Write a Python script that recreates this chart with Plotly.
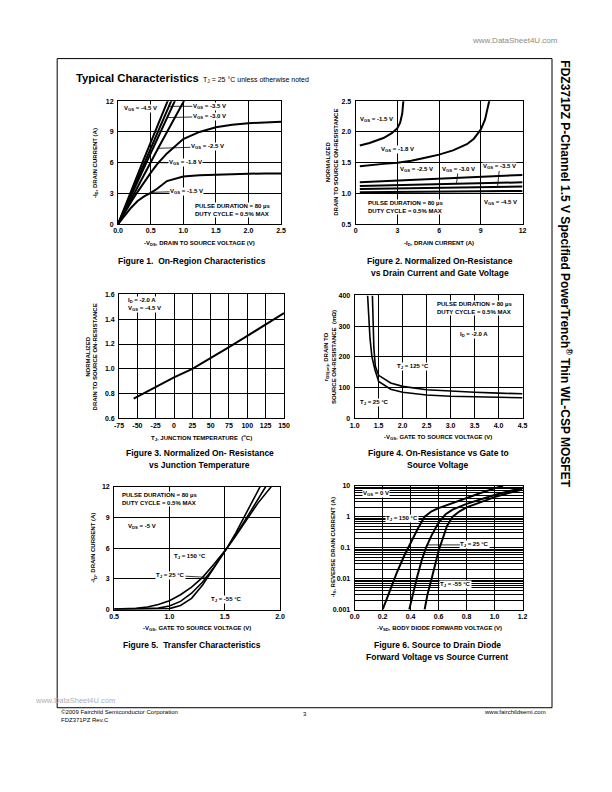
import math
import plotly.graph_objects as go

# page is 612x792; the html body has an 8 px margin, so the figure is drawn 8 px in
PAGE_W, PAGE_H = 612, 792
OFF = 8
W, H = PAGE_W - OFF, PAGE_H - OFF
FONT = "Liberation Sans, Arial, Helvetica, sans-serif"

# ---------------- Figure 1 : On-Region Characteristics ----------------
f1_vds_sat = [0, 0.1, 0.2, 0.3, 0.4, 0.5, 0.6, 0.75, 1.0, 1.25, 1.5, 1.75, 2.0, 2.25, 2.5]
f1_id_m1p8 = [0, 1.1, 2.15, 3.15, 4.1, 5.0, 5.85, 6.9, 8.3, 9.0, 9.45, 9.7, 9.85, 9.95, 10.0]
f1_id_m1p5 = [0, 0.85, 1.6, 2.25, 2.7, 3.05, 3.45, 4.2, 4.65, 4.78, 4.85, 4.9, 4.92, 4.94, 4.95]
f1_vds_m4p5 = [0, 0.38, 0.76, 0.9]
f1_id_m4p5 = [0, 6.1, 12.0, 14.1]
f1_vds_m3p5 = [0, 0.41, 0.81, 0.95]
f1_id_m3p5 = [0, 6.1, 12.0, 14.0]
f1_vds_m3p0 = [0, 0.44, 0.87, 1.0]
f1_id_m3p0 = [0, 6.1, 12.0, 13.8]
f1_vds_m2p5 = [0, 0.31, 0.615, 1.0, 1.1]
f1_id_m2p5 = [0, 3.8, 7.4, 11.9, 13.0]
f1_xticks = [0.0, 0.5, 1.0, 1.5, 2.0, 2.5]
f1_yticks = [0, 3, 6, 9, 12]

# ---------------- Figure 2 : Normalized On-Resistance vs ID ----------------
f2_id_m1p5 = [0.3, 1.0, 2.0, 2.6, 3.0, 3.2, 3.35, 3.45]
f2_r_m1p5 = [1.78, 1.82, 1.9, 1.98, 2.06, 2.15, 2.3, 2.55]
f2_id_m1p8 = [0.3, 1, 2, 3, 4, 5, 6, 7, 8, 8.5, 9.0, 9.3, 9.5, 9.65]
f2_r_m1p8 = [1.44, 1.46, 1.48, 1.50, 1.53, 1.58, 1.63, 1.70, 1.80, 1.89, 2.04, 2.2, 2.38, 2.55]
f2_id_lin = [0.3, 12]
f2_r_m2p5 = [1.18, 1.30]
f2_r_m3p0 = [1.12, 1.18]
f2_r_m3p5 = [1.07, 1.11]
f2_r_m4p5 = [1.02, 1.04]
f2_xticks = [0, 3, 6, 9, 12]
f2_yticks = [0.5, 1.0, 1.5, 2.0, 2.5]

# ---------------- Figure 3 : Normalized On-Resistance vs TJ ----------------
f3_tj = [-55, -25, 0, 25, 50, 75, 100, 125, 150]
f3_r = [0.76, 0.855, 0.93, 1.0, 1.085, 1.175, 1.265, 1.36, 1.45]
f3_xticks = [-75, -50, -25, 0, 25, 50, 75, 100, 125, 150]
f3_yticks = [0.6, 0.8, 1.0, 1.2, 1.4, 1.6]

# ---------------- Figure 4 : On-Resistance vs VGS ----------------
f4_vgs_25 = [1.27, 1.29, 1.32, 1.36, 1.42, 1.5, 1.75, 2.0, 2.5, 3.0, 3.5, 4.0, 4.5]
f4_r_25 = [400, 330, 260, 200, 160, 120, 95, 85, 76, 72, 70, 68, 67]
f4_vgs_125 = [1.37, 1.38, 1.40, 1.43, 1.5, 1.75, 2.0, 2.5, 3.0, 3.5, 4.0, 4.5]
f4_r_125 = [400, 320, 230, 170, 140, 115, 104, 93, 88, 85, 82, 80]
f4_xticks = [1.0, 1.5, 2.0, 2.5, 3.0, 3.5, 4.0, 4.5]
f4_yticks = [0, 100, 200, 300, 400]

# ---------------- Figure 5 : Transfer Characteristics ----------------
f5_vgs_150 = [0.5, 0.7, 0.8, 0.9, 1.0, 1.1, 1.2, 1.3, 1.4, 1.52, 1.6, 1.7, 1.8, 1.92]
f5_id_150 = [0.05, 0.12, 0.25, 0.5, 0.87, 1.45, 2.2, 3.15, 4.4, 6.0, 7.2, 8.8, 10.4, 12.0]
f5_vgs_25 = [0.5, 0.8, 0.9, 1.0, 1.1, 1.2, 1.3, 1.4, 1.52, 1.6, 1.7, 1.87]
f5_id_25 = [0.02, 0.07, 0.15, 0.35, 0.8, 1.6, 2.7, 4.1, 6.0, 7.3, 9.0, 12.0]
f5_vgs_m55 = [0.5, 0.9, 1.0, 1.1, 1.2, 1.3, 1.4, 1.52, 1.6, 1.7, 1.82]
f5_id_m55 = [0.0, 0.03, 0.1, 0.4, 1.1, 2.4, 4.0, 6.0, 7.5, 9.5, 12.0]
f5_xticks = [0.5, 1.0, 1.5, 2.0]
f5_yticks = [0, 3, 6, 9, 12]

# ---------------- Figure 6 : Source-Drain Diode ----------------
f6_vsd_150 = [0.2, 0.25, 0.3, 0.35, 0.4, 0.45, 0.5, 0.55, 0.6, 0.7, 0.8, 0.9, 1.0, 1.06]
f6_is_150 = [0.001, 0.004, 0.015, 0.05, 0.15, 0.4, 1.0, 1.5, 1.9, 2.8, 4.0, 5.8, 8.2, 10.0]
f6_vsd_25 = [0.39, 0.42, 0.45, 0.48, 0.51, 0.55, 0.6, 0.65, 0.7, 0.8, 0.9, 1.0, 1.1, 1.2]
f6_is_25 = [0.001, 0.004, 0.013, 0.04, 0.1, 0.25, 0.65, 1.2, 1.7, 2.6, 3.7, 5.0, 6.6, 8.5]
f6_vsd_m55 = [0.5, 0.52, 0.55, 0.58, 0.6, 0.63, 0.66, 0.7, 0.75, 0.8, 0.9, 1.0, 1.1, 1.2]
f6_is_m55 = [0.001, 0.003, 0.01, 0.035, 0.08, 0.2, 0.5, 1.0, 1.5, 2.0, 3.0, 4.3, 5.8, 7.5]
f6_xticks = [0.0, 0.2, 0.4, 0.6, 0.8, 1.0, 1.2]
f6_yticks = [0.001, 0.01, 0.1, 1, 10]
f6_yticklabels = ["0.001", "0.01", "0.1", "1", "10"]


def px(x):
    return (x - OFF) / W


def py(y):
    return 1 - (y - OFF) / H


def xdom(a, b):
    return [px(a), px(b)]


def ydom(top, bottom):
    return [py(bottom), py(top)]


TICKFONT = dict(family=FONT, size=7, color="black", weight="bold")
AX = dict(showline=True, mirror=True, linecolor="black", linewidth=1,
          showgrid=True, gridcolor="black", gridwidth=1, zeroline=False,
          ticks="", tickfont=TICKFONT, fixedrange=True)

fig = go.Figure()


def line(x, y, i, w=2):
    fig.add_trace(go.Scatter(x=x, y=y, mode="lines", xaxis=f"x{i}", yaxis=f"y{i}",
                             line=dict(color="black", width=w), hoverinfo="skip",
                             showlegend=False))


for xs, ys in [(f1_vds_m4p5, f1_id_m4p5), (f1_vds_m3p5, f1_id_m3p5), (f1_vds_m3p0, f1_id_m3p0),
               (f1_vds_m2p5, f1_id_m2p5), (f1_vds_sat, f1_id_m1p8), (f1_vds_sat, f1_id_m1p5)]:
    line(xs, ys, 1)
for xs, ys in [(f2_id_m1p5, f2_r_m1p5), (f2_id_m1p8, f2_r_m1p8), (f2_id_lin, f2_r_m2p5),
               (f2_id_lin, f2_r_m3p0), (f2_id_lin, f2_r_m3p5), (f2_id_lin, f2_r_m4p5)]:
    line(xs, ys, 2)
line(f3_tj, f3_r, 3)
line(f4_vgs_25, f4_r_25, 4, 1.6)
line(f4_vgs_125, f4_r_125, 4, 1.6)
line(f5_vgs_150, f5_id_150, 5, 1.6)
line(f5_vgs_25, f5_id_25, 5, 1.6)
line(f5_vgs_m55, f5_id_m55, 5, 1.6)
line(f6_vsd_150, f6_is_150, 6)
line(f6_vsd_25, f6_is_25, 6)
line(f6_vsd_m55, f6_is_m55, 6)

layout = dict(width=W, height=H, margin=dict(l=0, r=0, t=0, b=0),
              paper_bgcolor="white", plot_bgcolor="white", showlegend=False)

axes_spec = {
    1: dict(xd=xdom(115, 281), yd=ydom(98, 222), xr=[0, 2.5], yr=[0, 12],
            xt=f1_xticks, xtt=[f"{v:.1f}" for v in f1_xticks], yt=f1_yticks, ytt=[str(v) for v in f1_yticks]),
    2: dict(xd=xdom(357, 527), yd=ydom(98, 222), xr=[0, 12], yr=[0.5, 2.5],
            xt=f2_xticks, xtt=[str(v) for v in f2_xticks], yt=f2_yticks, ytt=[f"{v:.1f}" for v in f2_yticks]),
    3: dict(xd=xdom(116, 284), yd=ydom(293, 418), xr=[-75, 150], yr=[0.6, 1.6],
            xt=f3_xticks, xtt=[str(v) for v in f3_xticks], yt=f3_yticks, ytt=[f"{v:.1f}" for v in f3_yticks]),
    4: dict(xd=xdom(356, 527), yd=ydom(294, 418), xr=[1.0, 4.5], yr=[0, 400],
            xt=f4_xticks, xtt=[f"{v:.1f}" for v in f4_xticks], yt=f4_yticks, ytt=[str(v) for v in f4_yticks]),
    5: dict(xd=xdom(111, 280), yd=ydom(487, 611), xr=[0.5, 2.0], yr=[0, 12],
            xt=f5_xticks, xtt=[f"{v:.1f}" for v in f5_xticks], yt=f5_yticks, ytt=[str(v) for v in f5_yticks]),
    6: dict(xd=xdom(356, 527), yd=ydom(486, 611), xr=[0, 1.2], yr=[-3, 1],
            xt=f6_xticks, xtt=[f"{v:.1f}" for v in f6_xticks], yt=f6_yticks, ytt=f6_yticklabels),
}

for i, s in axes_spec.items():
    xa = dict(AX, domain=s["xd"], range=s["xr"], tickvals=s["xt"], ticktext=s["xtt"],
              anchor=f"y{i}", ticklabelstandoff=0)
    ya = dict(AX, domain=s["yd"], range=s["yr"], tickvals=s["yt"], ticktext=s["ytt"],
              anchor=f"x{i}", ticklabelstandoff=2)
    if i == 6:
        ya["type"] = "log"
        ya["minor"] = dict(showgrid=True, gridcolor="black", gridwidth=1,
                           tickvals=[k * 10 ** e for e in range(-3, 1) for k in range(2, 10)])
    layout[f"xaxis{i}"] = xa
    layout[f"yaxis{i}"] = ya

fig.update_layout(**layout)

ann = []


def lab(text, x, y, i, tx=None, ty=None, xanchor="center", size=6, bg="white"):
    d = dict(text=text, x=x, y=y, xref=f"x{i}", yref=f"y{i}", xanchor=xanchor, yanchor="middle",
             font=dict(family=FONT, size=size, color="black", weight="bold"),
             bgcolor=bg, borderpad=0, align="left")
    if tx is None:
        d["showarrow"] = False
    else:
        d.update(showarrow=True, arrowhead=0, arrowwidth=0.8, arrowcolor="black",
                 axref=f"x{i}", ayref=f"y{i}", ax=tx, ay=ty, standoff=0)
    ann.append(d)


def ptext(text, x, y, size=6, bold=True, xanchor="center", angle=0, color="black", yanchor="middle"):
    ann.append(dict(text=text, x=px(x), y=py(y), xref="paper", yref="paper",
                    xanchor=xanchor, yanchor=yanchor, textangle=angle, showarrow=False,
                    font=dict(family=FONT, size=size, color=color, weight="bold" if bold else "normal")))


PULSE = "PULSE DURATION = 80 \u00b5s<br>DUTY CYCLE = 0.5% MAX"

# Figure 1 labels
lab("V<sub>GS</sub> = -4.5 V", 0.34, 11.3, 1)
lab("V<sub>GS</sub> = -3.5 V", 0.78, 11.5, 1, 1.4, 11.5)
lab("V<sub>GS</sub> = -3.0 V", 0.76, 10.4, 1, 1.4, 10.5)
lab("V<sub>GS</sub> = -2.5 V", 0.615, 7.4, 1, 1.37, 7.55)
lab("V<sub>GS</sub> = -1.8 V", 0.6, 6.0, 1, 1.03, 5.97)
lab("V<sub>GS</sub> = -1.5 V", 0.52, 3.1, 1, 1.05, 3.2)
lab(PULSE, 1.16, 1.35, 1, xanchor="left")

# Figure 2 labels
lab("V<sub>GS</sub> = -1.5 V", 1.52, 2.2, 2)
lab("V<sub>GS</sub> = -1.8 V", 2.99, 1.72, 2)
lab("V<sub>GS</sub> = -2.5 V", 4.4, 1.386, 2)
lab("V<sub>GS</sub> = -3.0 V", 7.25, 1.15, 2, 7.37, 1.39)
lab("V<sub>GS</sub> = -3.5 V", 10.2, 1.1, 2, 10.35, 1.43)
lab("V<sub>GS</sub> = -4.5 V", 10.4, 0.845, 2)
lab(PULSE, 0.82, 0.78, 2, xanchor="left")

# Figure 3 labels
lab("I<sub>D</sub> = -2.0 A<br>V<sub>GS</sub> = -4.5 V", -64, 1.52, 3, xanchor="left")

# Figure 4 labels
lab(PULSE, 2.69, 358, 4, xanchor="left")
lab("I<sub>D</sub> = -2.0 A", 3.48, 272, 4)
lab("T<sub>J</sub> = 125 \u00b0C", 2.21, 168, 4)
lab("T<sub>J</sub> = 25 \u00b0C", 1.42, 51, 4)

# Figure 5 labels
lab(PULSE, 0.56, 10.85, 5, xanchor="left")
lab("V<sub>DS</sub> = -5 V", 0.75, 8.09, 5)
lab("T<sub>J</sub> = 150 \u00b0C", 1.19, 5.2, 5)
lab("T<sub>J</sub> = 25 \u00b0C", 1.34, 3.15, 5, 1.01, 3.34)
lab("T<sub>J</sub> = -55 \u00b0C", 1.52, 1.03, 5)

# Figure 6 labels (log axis -> log10 positions)
lg = math.log10
lab("V<sub>GS</sub> = 0 V", 0.15, lg(5.6), 6)
lab("T<sub>J</sub> = 150 \u00b0C", 0.34, lg(0.89), 6)
lab("T<sub>J</sub> = 25 \u00b0C", 0.52, lg(0.123), 6, 0.86, lg(0.123))
lab("T<sub>J</sub> = -55 \u00b0C", 0.72, lg(0.0064), 6)

# axis titles
AT = 6
ptext("-V<sub>DS</sub>, DRAIN TO SOURCE VOLTAGE (V)", 198, 242, AT)
ptext("-I<sub>D</sub>, DRAIN CURRENT (A)", 92, 160, AT, angle=-90)
ptext("-I<sub>D</sub>, DRAIN CURRENT (A)", 442, 242, AT)
ptext("NORMALIZED<br>DRAIN TO SOURCE ON-RESISTANCE", 333, 160, AT, angle=-90)
ptext("T<sub>J</sub>, JUNCTION TEMPERATURE  (<sup>o</sup>C)", 200, 437, AT)
ptext("NORMALIZED<br>DRAIN TO SOURCE ON-RESISTANCE", 88, 356, AT, angle=-90)
ptext("-V<sub>GS</sub>, GATE TO SOURCE VOLTAGE (V)", 441, 437, AT)
ptext("r<sub>DS(on)</sub>, DRAIN TO<br>SOURCE ON-RESISTANCE  (m\u03a9)", 331, 356, AT, angle=-90)
ptext("-V<sub>GS</sub>, GATE TO SOURCE VOLTAGE (V)", 195, 630, AT)
ptext("-I<sub>D</sub>, DRAIN CURRENT (A)", 90, 549, AT, angle=-90)
ptext("-V<sub>SD</sub>, BODY DIODE FORWARD VOLTAGE (V)", 442, 630, AT)
ptext("-I<sub>S</sub>, REVERSE DRAIN CURRENT (A)", 334, 548, AT, angle=-90)

# captions
CS = 8.5
ptext("Figure 1.  On-Region Characteristics", 190, 259, CS)
ptext("Figure 2. Normalized On-Resistance", 443, 259, CS)
ptext("vs Drain Current and Gate Voltage", 443, 271, CS)
ptext("Figure 3. Normalized On- Resistance", 198, 453, CS)
ptext("vs Junction Temperature", 198, 465, CS)
ptext("Figure 4. On-Resistance vs Gate to", 441, 453, CS)
ptext("Source Voltage", 441, 465, CS)
ptext("Figure 5.  Transfer Characteristics", 190, 647, CS)
ptext("Figure 6. Source to Drain Diode", 440, 647, CS)
ptext("Forward Voltage vs Source Current", 440, 659, CS)

# page header / footer
ptext("Typical Characteristics", 70, 75, 11.3, xanchor="left")
ptext("T<sub>J</sub> = 25 \u00b0C unless otherwise noted", 199, 77, 7, bold=False, xanchor="left")
ptext("www.DataSheet4U.com", 519, 37, 8, bold=False, color="#8a8a8a")
ptext("www.DataSheet4U.com", 28, 703, 7.5, bold=False, xanchor="left", color="#b0b0b0")
ptext("\u00a92009 Fairchild Semiconductor Corporation", 55, 714, 6, bold=False, xanchor="left")
ptext("FDZ371PZ Rev.C", 55, 722, 6, bold=False, xanchor="left")
ptext("3", 305, 716, 6, bold=False)
ptext("www.fairchildsemi.com", 553, 714, 6, bold=False, xanchor="right")
ptext("FDZ371PZ P-Channel 1.5 V Specified PowerTrench<sup>\u00ae</sup> Thin WL-CSP MOSFET",
      571, 55, 12, angle=90, yanchor="top")

fig.update_layout(annotations=ann)
fig.add_shape(type="rect", xref="paper", yref="paper", x0=px(53), x1=px(557),
              y0=py(710), y1=py(55), line=dict(color="black", width=1))

fig.write_html("out.html")
